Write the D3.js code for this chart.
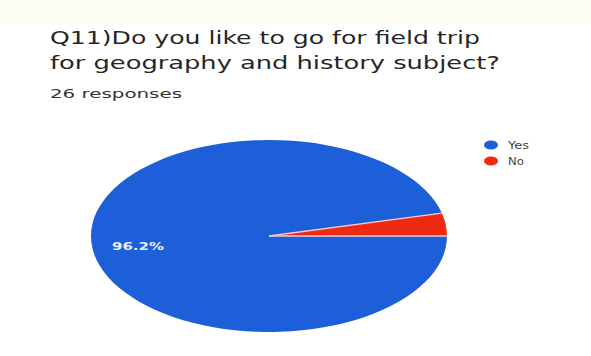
<!DOCTYPE html>
<html>
<head>
<meta charset="utf-8">
<script src="https://cdn.jsdelivr.net/npm/d3@7"></script>
<style>
  html, body { margin: 0; padding: 0; background: #fff; }
  svg { display: block; }
</style>
</head>
<body>
<svg id="chart" width="591" height="356"></svg>
<script>
// Survey answers
const categories = ["Yes", "No"];
const counts = [25, 1];
const colors = ["#1c5fd8", "#ee2b10"];
const titleLines = ["Q11)Do you like to go for field trip", "for geography and history subject?"];
const subtitle = "26 responses";

const svg = d3.select("#chart");
const W = 591, H = 356;
const font = "'DejaVu Sans', sans-serif";

// pale header strip
svg.append("rect").attr("x", 0).attr("y", 0).attr("width", W).attr("height", 24).attr("fill", "#fcfcf2");

// title
svg.selectAll("text.title").data(titleLines).enter().append("text")
  .attr("class", "title")
  .attr("x", 50)
  .attr("y", (d, i) => 44 + i * 25)
  .attr("textLength", (d, i) => i === 0 ? 430 : 450)
  .attr("lengthAdjust", "spacingAndGlyphs")
  .style("font-family", font)
  .style("font-size", "17px")
  .attr("fill", "#262626")
  .text(d => d);

svg.append("text")
  .attr("x", 50).attr("y", 98)
  .attr("textLength", 132).attr("lengthAdjust", "spacingAndGlyphs")
  .style("font-family", font)
  .style("font-size", "12px")
  .attr("fill", "#333")
  .text(subtitle);

// pie, drawn on a circle and stretched into an ellipse
const cx = 269, cy = 236, rx = 178, ry = 96;
const total = d3.sum(counts);
const pie = d3.pie().sort(null)
  .startAngle(Math.PI / 2).endAngle(Math.PI / 2 + 2 * Math.PI);
const arc = d3.arc().innerRadius(0).outerRadius(ry);
const arcs = pie(counts);

const g = svg.append("g")
  .attr("transform", `translate(${cx},${cy}) scale(${rx / ry},1)`);

g.selectAll("path").data(arcs).enter().append("path")
  .attr("d", arc)
  .attr("fill", (d, i) => colors[i]);

// thin light separators between the slices
g.selectAll("line.sep").data(arcs).enter().append("line")
  .attr("class", "sep")
  .attr("x1", 0).attr("y1", 0)
  .attr("x2", d => ry * Math.sin(d.startAngle))
  .attr("y2", d => -ry * Math.cos(d.startAngle))
  .attr("stroke", "#f0c8d2")
  .attr("stroke-width", 1.3)
  .attr("vector-effect", "non-scaling-stroke");

// percentage label on the large slice
const fmt = d3.format(".1f");
svg.append("text")
  .attr("x", 112).attr("y", 250)
  .attr("textLength", 52).attr("lengthAdjust", "spacingAndGlyphs")
  .style("font-family", font)
  .style("font-size", "11px")
  .style("font-weight", "bold")
  .attr("fill", "#e8eefc")
  .text(fmt(counts[0] / total * 100) + "%");

// legend
const legend = svg.append("g");
categories.forEach((c, i) => {
  const y = 145 + i * 16;
  legend.append("ellipse").attr("cx", 491).attr("cy", y).attr("rx", 7).attr("ry", 4.5).attr("fill", colors[i]);
  legend.append("text").attr("x", 508).attr("y", y + 4)
    .attr("textLength", i === 0 ? 21 : 16).attr("lengthAdjust", "spacingAndGlyphs")
    .style("font-family", font)
    .style("font-size", "11px")
    .attr("fill", "#444")
    .text(c);
});
</script>
</body>
</html>
